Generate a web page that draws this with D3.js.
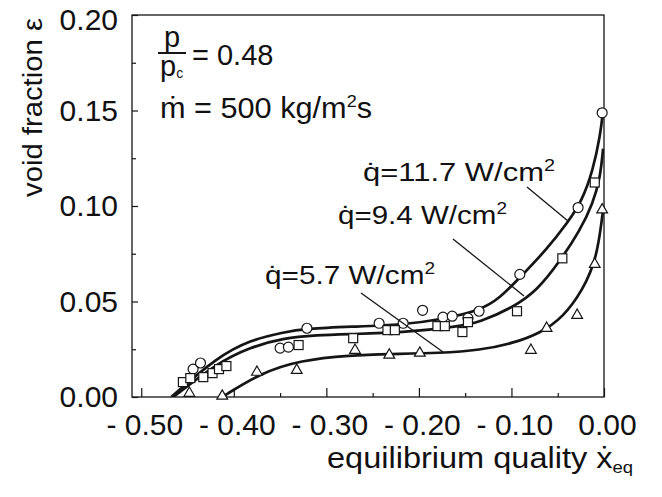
<!DOCTYPE html>
<html>
<head>
<meta charset="utf-8">
<script src="https://cdn.jsdelivr.net/npm/d3@7"></script>
<style>
  body { margin: 0; background: #fff; }
  svg { display: block; }
  text { font-family: "Liberation Sans", Arial, Helvetica, sans-serif; fill: #111; }
</style>
</head>
<body>
<svg id="chart" width="662" height="497"></svg>
<script>
// Axis ticks and labels
const xMajor = [-0.50, -0.40, -0.30, -0.20, -0.10, 0.00];
const xMinor = [-0.45, -0.35, -0.25, -0.15, -0.05];
const xTickLabels = ["- 0.50", "- 0.40", "- 0.30", "- 0.20", "- 0.10", "0.00"];
const yMajor = [0.00, 0.05, 0.10, 0.15, 0.20];
const yMinor = [0.025, 0.075, 0.125, 0.175];
const yTickLabels = ["0.00", "0.05", "0.10", "0.15", "0.20"];

// Measured void fraction, q = 11.7 W/cm2 (circles)
const circles = [
  [-0.444, 0.0146], [-0.436, 0.0178], [-0.350, 0.0256], [-0.341, 0.0261],
  [-0.321, 0.0360], [-0.243, 0.0386], [-0.217, 0.0386], [-0.196, 0.0454],
  [-0.174, 0.0418], [-0.164, 0.0423], [-0.147, 0.0413], [-0.135, 0.0449],
  [-0.091, 0.0642], [-0.028, 0.0992], [-0.002, 0.1488]
];
// Measured void fraction, q = 9.4 W/cm2 (squares)
const squares = [
  [-0.455, 0.0078], [-0.447, 0.0099], [-0.433, 0.0104], [-0.423, 0.0125],
  [-0.416, 0.0146], [-0.408, 0.0162], [-0.330, 0.0272], [-0.271, 0.0308],
  [-0.234, 0.0350], [-0.226, 0.0350], [-0.180, 0.0371], [-0.172, 0.0371],
  [-0.153, 0.0340], [-0.147, 0.0392], [-0.094, 0.0449], [-0.045, 0.0726],
  [-0.010, 0.1123]
];
// Measured void fraction, q = 5.7 W/cm2 (triangles)
const triangles = [
  [-0.448, 0.0020], [-0.4125, 0.0005], [-0.375, 0.0130], [-0.332, 0.0140],
  [-0.269, 0.0245], [-0.232, 0.0220], [-0.199, 0.0230], [-0.079, 0.0245],
  [-0.062, 0.0360], [-0.029, 0.0428], [-0.010, 0.0695], [-0.002, 0.0980]
];

// Fitted curves
const fit117 = [
  [-0.4676, 0.0000], [-0.418, 0.0209], [-0.382, 0.0298], [-0.347, 0.0339],
  [-0.321, 0.0358], [-0.274, 0.0368], [-0.217, 0.0378], [-0.177, 0.0405],
  [-0.134, 0.0452], [-0.112, 0.0520], [-0.091, 0.0625], [-0.062, 0.0772],
  [-0.039, 0.0915], [-0.024, 0.1025], [-0.012, 0.1185], [-0.004, 0.1370],
  [-0.001, 0.1500]
];
const fit94 = [
  [-0.4654, 0.0000], [-0.418, 0.0178], [-0.382, 0.0261], [-0.347, 0.0308],
  [-0.310, 0.0324], [-0.274, 0.0329], [-0.213, 0.0339], [-0.159, 0.0368],
  [-0.134, 0.0392], [-0.098, 0.0470], [-0.072, 0.0559], [-0.0475, 0.0712],
  [-0.026, 0.0872], [-0.012, 0.1013], [-0.004, 0.1150], [-0.001, 0.1300]
];
const fit57 = [
  [-0.4125, 0.0000], [-0.3715, 0.0125], [-0.328, 0.0193], [-0.274, 0.0219],
  [-0.231, 0.0225], [-0.177, 0.0230], [-0.134, 0.0245], [-0.098, 0.0282],
  [-0.069, 0.0334], [-0.044, 0.0418], [-0.023, 0.0559], [-0.0076, 0.0725],
  [-0.001, 0.0980]
];

const svg = d3.select("#chart");
const plotL = 132, plotR = 604, plotT = 15, plotB = 397;
const x = d3.scaleLinear().domain([-0.51, 0]).range([plotL, plotR]);
const y = d3.scaleLinear().domain([0, 0.20]).range([plotB, plotT]);
const ink = "#151515";

svg.append("defs").append("clipPath").attr("id", "plot")
  .append("rect").attr("x", plotL).attr("y", plotT)
  .attr("width", plotR - plotL).attr("height", plotB - plotT);

// Frame
svg.append("rect")
  .attr("x", plotL).attr("y", plotT)
  .attr("width", plotR - plotL).attr("height", plotB - plotT)
  .attr("fill", "none").attr("stroke", ink).attr("stroke-width", 1.3);

// X axis
const xAxis = svg.append("g").attr("transform", `translate(0,${plotB})`)
  .call(d3.axisBottom(x).tickValues(xMajor).tickSize(-9).tickPadding(17)
    .tickFormat((d, i) => xTickLabels[i]));
svg.append("g").attr("transform", `translate(0,${plotB})`)
  .call(d3.axisBottom(x).tickValues(xMinor).tickSize(-4).tickFormat(""));
// Y axis
const yAxis = svg.append("g").attr("transform", `translate(${plotL},0)`)
  .call(d3.axisLeft(y).tickValues(yMajor).tickSize(-6).tickPadding(14)
    .tickFormat((d, i) => yTickLabels[i]));
svg.append("g").attr("transform", `translate(${plotL},0)`)
  .call(d3.axisLeft(y).tickValues(yMinor).tickSize(-4).tickFormat(""));

svg.selectAll(".domain").remove();
svg.selectAll(".tick line").attr("stroke", ink).attr("stroke-width", 1.2);
svg.selectAll(".tick text")
  .attr("font-size", 30).attr("fill", ink)
  .style("font-family", '"Liberation Sans", Arial, sans-serif');
xAxis.selectAll(".tick text").attr("dx", 3);
// keep the topmost label inside the page
yAxis.selectAll(".tick text").attr("dy", d => d >= 0.2 ? "0.48em" : "0.32em");

// Fitted curves
const line = d3.line().x(d => x(d[0])).y(d => y(d[1])).curve(d3.curveBasis);
const curves = svg.append("g").attr("clip-path", "url(#plot)");
[fit117, fit94, fit57].forEach(c => {
  curves.append("path").datum(c).attr("d", line)
    .attr("fill", "none").attr("stroke", ink).attr("stroke-width", 2.7);
});

// Markers
const marks = svg.append("g").attr("fill", "#fff").attr("stroke", ink).attr("stroke-width", 1.2);
marks.selectAll(".c").data(circles).join("circle")
  .attr("cx", d => x(d[0])).attr("cy", d => y(d[1])).attr("r", 5);
marks.selectAll(".s").data(squares).join("rect")
  .attr("x", d => x(d[0]) - 4.5).attr("y", d => y(d[1]) - 4.5)
  .attr("width", 9).attr("height", 9);
const tri = d3.symbol().type(d3.symbolTriangle).size(50);
marks.selectAll(".t").data(triangles).join("path")
  .attr("transform", d => `translate(${x(d[0])},${y(d[1])})`)
  .attr("d", tri);

// Legend leader lines
const leaders = [
  [[527, 187], [568, 221]],
  [[453, 239], [524, 296]],
  [[361, 293], [443, 352]]
];
leaders.forEach(l => {
  svg.append("line").attr("x1", l[0][0]).attr("y1", l[0][1])
    .attr("x2", l[1][0]).attr("y2", l[1][1])
    .attr("stroke", ink).attr("stroke-width", 1.3);
});

function label(px, py, str, size, len) {
  const t = svg.append("text").attr("x", px).attr("y", py)
    .attr("font-size", size).text(str);
  if (len) t.attr("textLength", len).attr("lengthAdjust", "spacingAndGlyphs");
  return t;
}

// Heat flux labels
function fluxLabel(px, py, val, len) {
  const t = svg.append("text").attr("x", px).attr("y", py).attr("font-size", 25)
    .attr("textLength", len).attr("lengthAdjust", "spacingAndGlyphs");
  t.append("tspan").text("q\u0307=" + val + " W/cm");
  t.append("tspan").attr("dy", -10).attr("font-size", 16).text("2");
}
fluxLabel(363, 181, "11.7", 192);
fluxLabel(338, 224, "9.4", 169);
fluxLabel(265, 284, "5.7", 170);

// Operating conditions
label(164, 47, "p", 29);
svg.append("line").attr("x1", 158).attr("x2", 186).attr("y1", 53).attr("y2", 53)
  .attr("stroke", ink).attr("stroke-width", 2);
const pc = svg.append("text").attr("x", 160).attr("y", 76).attr("font-size", 29);
pc.append("tspan").text("p");
pc.append("tspan").attr("font-size", 14).attr("dy", 2).text("c");
label(192, 65, "= 0.48", 29);
const mf = svg.append("text").attr("x", 160).attr("y", 118).attr("font-size", 29)
  .attr("textLength", 212).attr("lengthAdjust", "spacingAndGlyphs");
mf.append("tspan").text("\u1E41 = 500 kg/m");
mf.append("tspan").attr("font-size", 17).attr("dy", -11).text("2");
mf.append("tspan").attr("dy", 11).text("s");

// Axis titles
const xt = svg.append("text").attr("x", 327).attr("y", 468).attr("font-size", 30)
  .attr("textLength", 306).attr("lengthAdjust", "spacingAndGlyphs");
xt.append("tspan").text("equilibrium quality \u1E8B");
xt.append("tspan").attr("font-size", 17).attr("dy", 5).text("eq");

svg.append("text")
  .attr("transform", "translate(42,197) rotate(-90)")
  .attr("font-size", 27).attr("textLength", 179).attr("lengthAdjust", "spacingAndGlyphs")
  .text("void fraction \u03B5");
</script>
</body>
</html>
